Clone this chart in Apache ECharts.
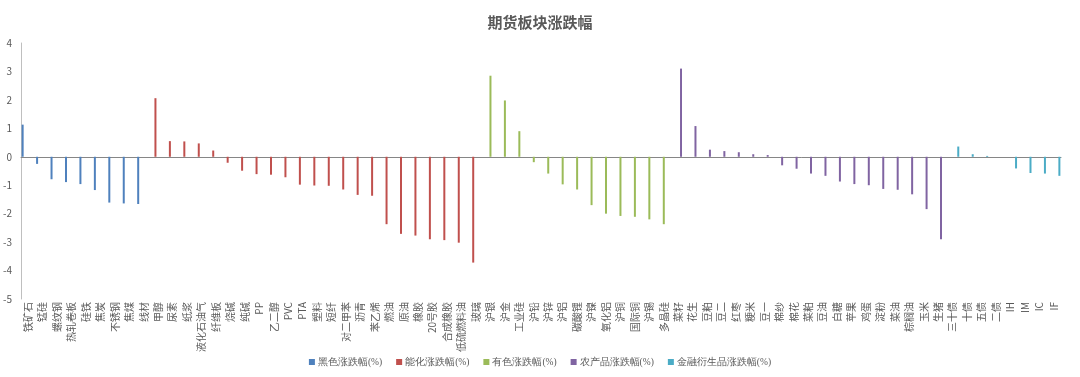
<!DOCTYPE html>
<html>
<head>
<meta charset="utf-8">
<script src="https://cdn.jsdelivr.net/npm/echarts@6/dist/echarts.min.js"></script>
<style>
  html, body { margin: 0; padding: 0; background: #fff; }
  #chart { width: 1080px; height: 377px; }
</style>
</head>
<body>
<div id="chart"></div>
<script>
// sector names, in axis order
const blackNames = ['铁矿石', '锰硅', '螺纹钢', '热轧卷板', '硅铁', '焦炭', '不锈钢', '焦煤', '线材'];
const energyNames = ['甲醇', '尿素', '纸浆', '液化石油气', '纤维板', '烧碱', '纯碱', 'PP', '乙二醇', 'PVC', 'PTA', '塑料',
  '短纤', '对二甲苯', '沥青', '苯乙烯', '燃油', '原油', '橡胶', '20号胶', '合成橡胶', '低硫燃料油', '玻璃'];
const metalNames = ['沪银', '沪金', '工业硅', '沪铅', '沪锌', '沪铝', '碳酸锂', '沪镍', '氧化铝', '沪铜', '国际铜', '沪锡', '多晶硅'];
const agriNames = ['菜籽', '花生', '豆粕', '豆二', '红枣', '粳米', '豆一', '棉纱', '棉花', '菜粕', '豆油', '白糖', '苹果',
  '鸡蛋', '淀粉', '菜油', '棕榈油', '玉米', '生猪'];
const finNames = ['三十债', '十债', '五债', '二债', 'IH', 'IM', 'IC', 'IF'];

// daily change (%)
const blackValues = [1.13, -0.25, -0.79, -0.89, -0.96, -1.17, -1.61, -1.64, -1.66];
const energyValues = [2.06, 0.55, 0.54, 0.47, 0.22, -0.21, -0.49, -0.61, -0.63, -0.72, -0.98, -1.01,
  -1.02, -1.15, -1.34, -1.37, -2.37, -2.71, -2.77, -2.90, -2.93, -3.02, -3.72];
const metalValues = [2.85, 1.98, 0.90, -0.19, -0.59, -0.97, -1.15, -1.70, -2.00, -2.08, -2.11, -2.20, -2.37];
const agriValues = [3.10, 1.08, 0.25, 0.20, 0.16, 0.09, 0.06, -0.30, -0.42, -0.59, -0.67, -0.87, -0.96,
  -1.00, -1.13, -1.16, -1.32, -1.84, -2.90];
const finValues = [0.36, 0.09, 0.03, 0.00, -0.41, -0.57, -0.59, -0.67];

const seriesNames = ['黑色涨跌幅(%)', '能化涨跌幅(%)', '有色涨跌幅(%)', '农产品涨跌幅(%)', '金融衍生品涨跌幅(%)'];
const colors = ['#4F81BD', '#C0504D', '#9BBB59', '#8064A2', '#4BACC6'];

const groups = [
  [blackNames, blackValues],
  [energyNames, energyValues],
  [metalNames, metalValues],
  [agriNames, agriValues],
  [finNames, finValues]
];

const categories = groups.flatMap((g) => g[0]);

// each series only has values on its own categories
const series = groups.map((g, i) => {
  const data = categories.map((c) => {
    const idx = g[0].indexOf(c);
    return idx >= 0 ? g[1][idx] : '-';
  });
  return {
    name: seriesNames[i],
    type: 'bar',
    barWidth: 2,
    barGap: '40%',
    itemStyle: { color: colors[i] },
    data: data
  };
});

const chart = echarts.init(document.getElementById('chart'), null, { renderer: 'canvas' });

const textColor = '#595959';
const font = '"Noto Sans CJK SC", sans-serif';

chart.setOption({
  animation: false,
  color: colors,
  title: {
    text: '期货板块涨跌幅',
    left: 'center',
    top: 10,
    textStyle: { fontFamily: font, fontSize: 15, fontWeight: 'bold', color: textColor }
  },
  legend: {
    bottom: 5,
    left: 'center',
    itemWidth: 6,
    itemHeight: 6,
    itemGap: 14,
    icon: 'rect',
    textStyle: { fontFamily: 'serif', fontSize: 9.5, color: textColor, padding: [0, 0, 0, -2] },
    data: seriesNames
  },
  grid: { left: 21, right: 19, top: 43, bottom: 78 },
  xAxis: [
    {
      type: 'category',
      data: categories,
      axisLine: { onZero: true, lineStyle: { color: '#868686', width: 1 } },
      axisTick: { show: false },
      axisLabel: { show: false }
    },
    {
      type: 'category',
      data: categories,
      position: 'bottom',
      axisLine: { show: false, onZero: false },
      axisTick: { show: false },
      axisLabel: {
        interval: 0,
        rotate: 90,
        margin: 3,
        fontFamily: font,
        fontSize: 10,
        color: textColor
      }
    }
  ],
  yAxis: {
    type: 'value',
    min: -5,
    max: 4,
    interval: 1,
    axisLine: { show: true, lineStyle: { color: '#BFBFBF' } },
    axisTick: { show: false },
    splitLine: { show: false },
    axisLabel: { fontFamily: font, fontSize: 10, color: textColor, margin: 9 }
  },
  series: series
});
</script>
</body>
</html>
